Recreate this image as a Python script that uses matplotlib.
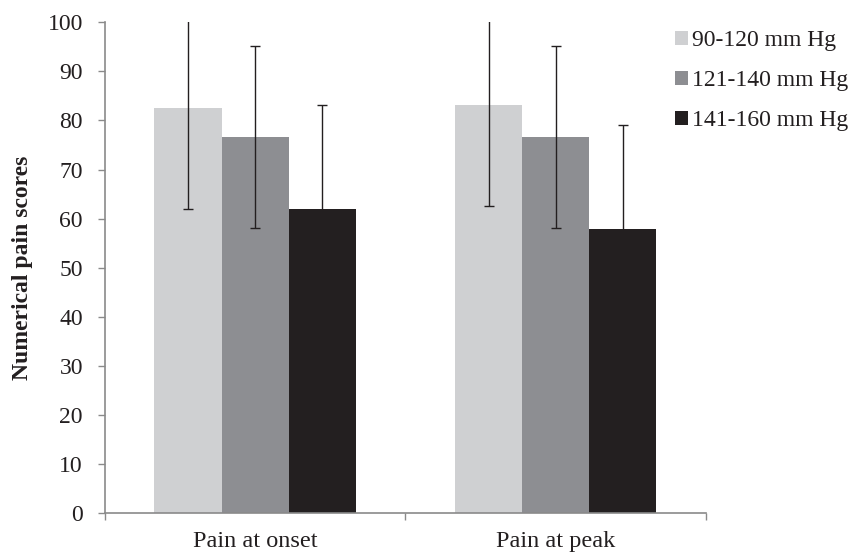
import matplotlib
matplotlib.use("Agg")
import matplotlib.pyplot as plt
import numpy as np

categories = ["Pain at onset", "Pain at peak"]
series_labels = ["90-120 mm Hg", "121-140 mm Hg", "141-160 mm Hg"]
means_90_120 = [82.6, 83.2]
means_121_140 = [76.6, 76.6]
means_141_160 = [61.9, 57.8]
err_90_120 = [20.6, 20.7]
err_121_140 = [18.5, 18.5]
err_141_160 = [21.3, 21.2]
yticks = [0, 10, 20, 30, 40, 50, 60, 70, 80, 90, 100]

colors = ["#cfd0d2", "#8d8e92", "#231f20"]
means = [means_90_120, means_121_140, means_141_160]
errs = [err_90_120, err_121_140, err_141_160]

plt.rcParams['font.family'] = ['Liberation Serif', 'DejaVu Serif']

fig = plt.figure(figsize=(8.54, 5.54), dpi=100)
ax = fig.add_axes([0.1226, 0.0735, 0.7041, 0.8863])

x = np.arange(len(categories))
w = 0.223
offsets = [-w, 0, w]
for i in range(3):
    ax.bar(x + offsets[i], means[i], width=w, color=colors[i], label=series_labels[i],
           zorder=2)
    ax.errorbar(x + offsets[i], means[i], yerr=errs[i], fmt='none', ecolor="#231f20",
                elinewidth=1.0, capsize=3.3, capthick=1.0, zorder=3)

ax.set_xlim(-0.5, 1.5)
ax.set_ylim(0, 100)
ax.set_yticks(yticks)
ax.set_yticklabels([str(v) for v in yticks])
ax.set_xticks(x)
ax.set_xticklabels(categories)
ax.set_xticks([-0.5, 0.5, 1.5], minor=True)

for s in ["top", "right"]:
    ax.spines[s].set_visible(False)
for s in ["left", "bottom"]:
    ax.spines[s].set_color("#8a8a8a")
    ax.spines[s].set_linewidth(1.2)

ax.tick_params(axis='y', which='major', direction='out', length=4.7, width=1.0,
               color="#8a8a8a", labelsize=17, pad=11, labelcolor="#231f20")
ax.tick_params(axis='x', which='major', length=0, labelsize=17.5, pad=13,
               labelcolor="#231f20")
ax.tick_params(axis='x', which='minor', direction='out', length=4.8, width=1.0,
               color="#8a8a8a")

ax.set_ylabel("Numerical pain scores", fontsize=17, fontweight='bold', color="#231f20")
ax.yaxis.label.set_va('center')
ax.yaxis.set_label_coords(-0.136, 0.5)

leg = ax.legend(loc='upper left', bbox_to_anchor=(0.790, 0.945),
                bbox_transform=fig.transFigure, frameon=False, fontsize=17,
                handlelength=0.55, handleheight=0.55, handletextpad=0.2,
                labelspacing=0.80, borderaxespad=0, borderpad=0)
for t in leg.get_texts():
    t.set_color("#231f20")

fig.savefig("out.png", dpi=100)
